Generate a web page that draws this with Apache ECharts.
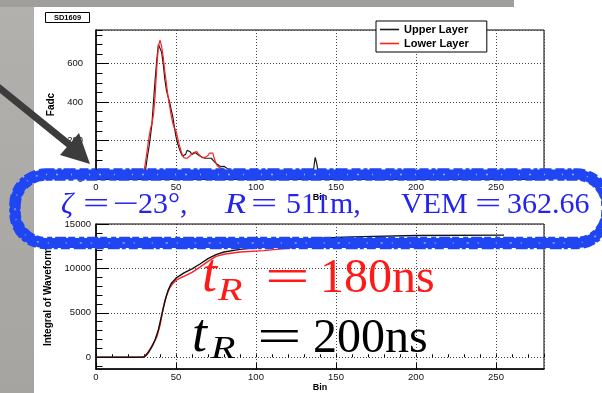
<!DOCTYPE html>
<html><head><meta charset="utf-8">
<script src="https://cdn.jsdelivr.net/npm/echarts@6/dist/echarts.min.js"></script>
<style>html,body{margin:0;padding:0;background:#fff}#c{width:602px;height:393px}</style>
</head><body><div id="c"></div>
<script>
// ---- axis tick values ----
const xMajor = [0, 50, 100, 150, 200, 250];
const fadcMajor = [0, 200, 400, 600];
const intMajor = [0, 5000, 10000, 15000];
const intMinor = [-1000,1000,2000,3000,4000,6000,7000,8000,9000,11000,12000,13000,14000];

// ---- top panel: FADC traces ----
const upperFadcBins = [0,28,30,31,32,33,34,35,36,37,38,39,40,41,42,43,44,45,46,47,48,49,50,51,52,53,54,55,56,57,58,59,60,61,62,63,64,66,68,70,72,74,76,78,80,82,84,88,95,100,134,136,137,138,139,140,255];
const upperFadc     = [4,4,20,50,110,160,220,290,410,520,620,700,705,660,600,520,462,430,401,360,324,270,220,185,160,138,120,118,128,150,159,140,127,130,138,135,125,114,108,108,108,90,75,64,66,55,47,25,12,6,5,50,113,80,20,5,4];
const lowerFadcBins = [0,29,30,31,32,33,34,35,36,37,38,39,40,41,42,43,44,45,46,47,48,49,50,51,52,53,54,55,56,57,58,59,60,61,62,63,64,65,66,67,68,69,70,71,72,73,74,75,76,77,78,80,82,84,88,95,100,255];
const lowerFadc     = [2,5,40,90,150,210,260,290,340,440,580,690,722,690,635,560,497,430,380,330,290,265,250,215,180,150,125,110,106,108,115,122,128,138,145,142,130,120,114,112,112,115,122,135,145,135,105,80,66,58,55,50,40,30,15,6,3,2];

// ---- bottom panel: integrals ----
const upperIntBins = [0,29,31,33,35,37,39,41,43,45,47,50,55,60,65,70,75,80,90,100,115,135,160,200,255];
const upperInt     = [0,0,150,600,1200,2000,3100,4700,6300,7500,8300,8900,9500,9950,10500,11100,11550,11850,12150,12350,12800,13370,13550,13700,13750];
const lowerIntBins = [0,30,32,34,36,38,40,42,44,46,48,50,53,56,60,65,70,75,80,90,105,127,160,200,255];
const lowerInt     = [0,0,450,1000,1600,2300,3600,5500,6900,7800,8300,8650,8950,9200,9550,10150,10800,11350,11600,11850,12000,12400,12650,12800,12850];

const zip = (a, b) => a.map((v, i) => [v, b[i]]);
const SANS = '"Liberation Sans", Arial, sans-serif';
const SERIF = '"Liberation Serif", "Times New Roman", serif';
const tickLbl = {fontFamily: SANS, fontSize: 9.5, color: '#111'};
const dotted = {color: '#444', width: 1, type: [1, 2]};
const onlyIn = list => (v => list.indexOf(Math.round(v)) >= 0 ? String(Math.round(v)) : '');

function mainX(grid) {
  return {gridIndex: grid, type: 'value', min: 0, max: 280, interval: 50, position: 'bottom',
    name: 'Bin', nameLocation: 'middle', nameGap: 10,
    nameTextStyle: {fontFamily: SANS, fontWeight: 'bold', fontSize: 9, color: '#000'},
    axisLine: {show: true, onZero: false, lineStyle: {color: '#000', width: 1.5}},
    axisTick: {show: true, inside: true, length: 6, lineStyle: {color: '#000', width: 1}},
    axisLabel: {show: true, margin: 3, formatter: onlyIn(xMajor), showMaxLabel: false, ...tickLbl},
    splitLine: {show: true, lineStyle: dotted}};
}
function minorX(grid) {
  return {gridIndex: grid, type: 'value', min: 0, max: 280, interval: 10, position: 'bottom',
    axisLine: {show: false}, axisLabel: {show: false}, splitLine: {show: false},
    axisTick: {show: true, inside: true, length: 3, lineStyle: {color: '#000', width: 1}}};
}
const yName = {fontFamily: SANS, fontWeight: 'bold', fontSize: 10, color: '#000'};

const chart = echarts.init(document.getElementById('c'), null, {renderer: 'canvas'});

const BLUE = '#1f46f2';
const TBLUE = '#2424ee';
function txt(text, x, y, font, fill, sx) {
  return {type: 'text', z: 120, x: x, y: y, scaleX: sx || 1,
    style: {text: text, x: 0, y: 0, font: font, fill: fill, align: 'left', verticalAlign: 'middle'}};
}
function lineSeries(name, xi, yi, data, color, w, z) {
  return {name: name, type: 'line', xAxisIndex: xi, yAxisIndex: yi, data: data,
    symbol: 'none', showSymbol: false, z: z, animation: false,
    lineStyle: {color: color, width: w}, itemStyle: {color: color}};
}

chart.setOption({
  animation: false,
  backgroundColor: '#fff',
  grid: [
    {left: 96, top: 30, width: 448, height: 149, show: true, borderColor: '#000', borderWidth: 1, backgroundColor: 'transparent'},
    {left: 96, top: 224, width: 448, height: 148, show: true, borderColor: '#000', borderWidth: 1, backgroundColor: 'transparent'}
  ],
  xAxis: [mainX(0), mainX(1), minorX(0), minorX(1)],
  yAxis: [
    {gridIndex: 0, type: 'value', min: 0, max: 775, interval: 200, position: 'left',
      name: 'Fadc', nameLocation: 'middle', nameGap: 32, nameTextStyle: yName,
      axisLine: {show: true, onZero: false, lineStyle: {color: '#000', width: 1.5}},
      axisTick: {show: true, inside: true, length: 13, lineStyle: {color: '#000', width: 1}},
      axisLabel: {show: true, margin: 13, formatter: onlyIn(fadcMajor), showMaxLabel: false, ...tickLbl},
      splitLine: {show: true, lineStyle: dotted}},
    {gridIndex: 1, type: 'value', min: -1330, max: 15000, position: 'left',
      name: 'Integral of Waveform', nameLocation: 'middle', nameGap: 33, nameTextStyle: yName,
      axisLine: {show: true, onZero: false, lineStyle: {color: '#000', width: 1.5}},
      axisTick: {show: true, inside: true, length: 13, customValues: intMajor, lineStyle: {color: '#000', width: 1}},
      axisLabel: {show: true, margin: 5, customValues: intMajor, formatter: onlyIn(intMajor), ...tickLbl},
      splitLine: {show: true, lineStyle: dotted}},
    {gridIndex: 0, type: 'value', min: 0, max: 775, interval: 50, position: 'left',
      axisLine: {show: false}, axisLabel: {show: false}, splitLine: {show: false},
      axisTick: {show: true, inside: true, length: 6.5, lineStyle: {color: '#000', width: 1}}},
    {gridIndex: 1, type: 'value', min: -1330, max: 15000, position: 'left',
      axisLine: {show: false}, axisLabel: {show: false}, splitLine: {show: false},
      axisTick: {show: true, inside: true, length: 6.5, customValues: intMinor, lineStyle: {color: '#000', width: 1}}}
  ],
  legend: {
    data: ['Upper Layer', 'Lower Layer'], orient: 'vertical', left: 376, top: 21,
    padding: [2, 18, 2, 4], icon: 'rect', itemWidth: 19, itemHeight: 1.6, itemGap: 1,
    borderColor: '#000', borderWidth: 1, backgroundColor: '#fff',
    textStyle: {fontFamily: SANS, fontWeight: 'bold', fontSize: 11, color: '#000', lineHeight: 13}
  },
  series: [
    lineSeries('Upper Layer', 0, 0, zip(upperFadcBins, upperFadc), '#1a1a1a', 1.2, 3),
    lineSeries('Lower Layer', 0, 0, zip(lowerFadcBins, lowerFadc), '#ff2020', 1.2, 4),
    lineSeries('Lower Layer', 1, 1, zip(lowerIntBins, lowerInt), '#ff2020', 1.4, 3),
    lineSeries('Upper Layer', 1, 1, zip(upperIntBins, upperInt), '#111111', 1.4, 4)
  ],
  graphic: {elements: [
    {type: 'rect', z: -10, shape: {x: 0, y: 0, width: 34, height: 393},
      style: {fill: {type: 'linear', x: 0, y: 0, x2: 0, y2: 1, colorStops: [{offset: 0, color: '#b3b1ae'}, {offset: 1, color: '#a6a4a0'}]}}},
    {type: 'rect', z: -10, shape: {x: 0, y: 0, width: 514, height: 7}, style: {fill: '#a19f9b'}},
    // SD1609 label
    {type: 'rect', z: 50, shape: {x: 45.5, y: 12.5, width: 44, height: 10}, style: {fill: '#fff', stroke: '#000', lineWidth: 1}},
    {type: 'text', z: 51, style: {text: 'SD1609', x: 67.5, y: 17.8, font: 'bold 7.5px ' + SANS, fill: '#000', align: 'center', verticalAlign: 'middle'}},
    // arrow
    {type: 'line', z: 60, shape: {x1: -2, y1: 87, x2: 71, y2: 146}, style: {stroke: '#3c3c3c', lineWidth: 7}},
    {type: 'polygon', z: 60, shape: {points: [[60, 155], [79, 133], [90, 164]]}, style: {fill: '#3c3c3c'}},
    // blue hand-drawn loop
    {type: 'rect', z: 100, shape: {x: 15, y: 174.5, width: 592, height: 68.5, r: 31}, style: {fill: 'none', stroke: BLUE, lineWidth: 10}},
    {type: 'rect', z: 101, shape: {x: 10.5, y: 169.5, width: 601, height: 78.5, r: 35}, style: {fill: 'none', stroke: BLUE, lineWidth: 2.5, lineDash: [9, 3, 4, 2, 12, 4]}},
    {type: 'rect', z: 101, shape: {x: 19.5, y: 179.5, width: 583, height: 58.5, r: 26}, style: {fill: 'none', stroke: BLUE, lineWidth: 2.5, lineDash: [7, 2, 11, 3, 5, 4]}},
    {type: 'rect', z: 102, shape: {x: 15, y: 174.5, width: 592, height: 68.5, r: 31}, style: {fill: 'none', stroke: 'rgba(255,255,255,0.55)', lineWidth: 1.3, lineDash: [1, 9, 2, 13, 1, 17]}},
    // blue equation text
    txt('ζ', 61, 205, 'italic 30px ' + SERIF, TBLUE),
    txt('=', 83, 205, '30px ' + SERIF, TBLUE, 1.55),
    txt('\u2212', 113, 205, '30px ' + SERIF, TBLUE, 1.55),
    txt('23°,', 138, 205, '30px ' + SERIF, TBLUE),
    txt('R', 225, 205, 'italic 30px ' + SERIF, TBLUE, 1.15),
    txt('=', 251, 205, '30px ' + SERIF, TBLUE, 1.55),
    txt('511m,', 286, 205, '30px ' + SERIF, TBLUE),
    txt('VEM', 401, 205, '30px ' + SERIF, TBLUE),
    txt('=', 475, 205, '30px ' + SERIF, TBLUE, 1.55),
    txt('362.66', 507, 205, '30px ' + SERIF, TBLUE),
    // red t_R
    txt('t', 202, 277, 'italic 54px ' + SERIF, '#ff1a1a'),
    txt('R', 218, 292, 'italic 32px ' + SERIF, '#ff1a1a', 1.25),
    txt('=', 265, 279, '48px ' + SERIF, '#ff1a1a', 1.65),
    txt('180ns', 320, 279, '48px ' + SERIF, '#ff1a1a'),
    // black t_R
    txt('t', 192, 337, 'italic 54px ' + SERIF, '#000'),
    txt('R', 211, 350, 'italic 32px ' + SERIF, '#000', 1.25),
    txt('=', 257, 339, '48px ' + SERIF, '#000', 1.65),
    txt('200ns', 313, 339, '48px ' + SERIF, '#000')
  ]}
});
</script></body></html>
